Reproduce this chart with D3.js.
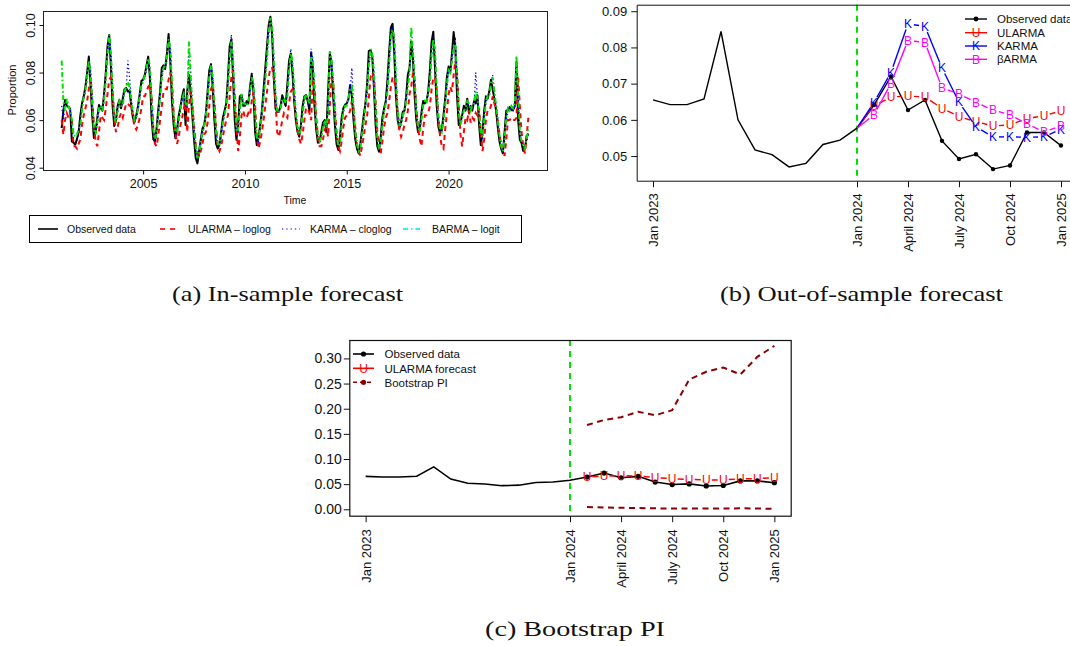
<!DOCTYPE html>
<html>
<head>
<meta charset="utf-8">
<script src="https://cdn.jsdelivr.net/npm/d3@7"></script>
<style>
  body { margin: 0; background: #fff; }
  svg { display: block; }
  text { font-family: "Liberation Sans", Arial, Helvetica, sans-serif; fill: #111; }
  .cap { font-family: "Liberation Serif", "Times New Roman", serif; }
</style>
</head>
<body>
<svg id="fig" width="1070" height="646"></svg>
<script>
// ---------- (a) in-sample: monthly series, Jan 2001 - Dec 2023 ----------
const startYear = 2001;
const observed = [
  .0566,.0640,.0685,.0660,.0655,.0648,.0510,.0505,.0497,.0520,.0550,.0620,
  .0670,.0700,.0740,.0800,.0867,.0750,.0620,.0525,.0550,.0610,.0664,.0650,
  .0640,.0710,.0800,.0910,.0958,.0830,.0660,.0575,.0600,.0660,.0685,.0650,
  .0690,.0730,.0735,.0720,.0725,.0660,.0610,.0593,.0620,.0660,.0710,.0765,
  .0770,.0790,.0830,.0867,.0780,.0610,.0520,.0509,.0570,.0650,.0720,.0820,
  .0830,.0815,.0880,.0962,.0850,.0680,.0580,.0524,.0560,.0620,.0657,.0700,
  .0730,.0580,.0720,.0790,.0720,.0620,.0520,.0440,.0418,.0470,.0520,.0565,
  .0580,.0630,.0720,.0810,.0835,.0740,.0600,.0500,.0480,.0500,.0550,.0610,
  .0640,.0670,.0780,.0910,.0940,.0780,.0600,.0517,.0580,.0700,.0705,.0660,
  .0660,.0680,.0670,.0740,.0795,.0720,.0550,.0495,.0530,.0580,.0640,.0730,
  .0820,.0910,.1000,.1035,.0960,.0780,.0650,.0635,.0635,.0660,.0705,.0680,
  .0660,.0750,.0850,.0880,.0800,.0680,.0600,.0550,.0530,.0580,.0660,.0700,
  .0705,.0680,.0640,.0885,.0820,.0660,.0560,.0505,.0510,.0550,.0590,.0600,
  .0550,.0720,.0880,.0840,.0700,.0580,.0500,.0474,.0530,.0610,.0650,.0665,
  .0670,.0690,.0748,.0700,.0600,.0520,.0480,.0460,.0500,.0560,.0620,.0670,
  .0750,.0890,.0895,.0870,.0740,.0580,.0490,.0467,.0530,.0610,.0650,.0680,
  .0770,.0890,.0990,.1005,.0880,.0700,.0600,.0566,.0590,.0635,.0640,.0700,
  .0790,.0820,.0930,.0860,.0700,.0600,.0550,.0560,.0630,.0680,.0670,.0680,
  .0720,.0810,.0930,.0972,.0820,.0660,.0572,.0545,.0560,.0620,.0690,.0780,
  .0825,.0800,.0880,.0970,.0900,.0700,.0580,.0590,.0620,.0660,.0640,.0690,
  .0630,.0660,.0640,.0680,.0670,.0705,.0580,.0495,.0550,.0640,.0700,.0690,
  .0720,.0770,.0730,.0690,.0640,.0570,.0510,.0480,.0460,.0550,.0640,.0640,
  .0655,.0642,.0642,.0658,.0844,.0600,.0517,.0504,.0470,.0480,.0532,.0544
];
const ularmaFit = [
  .060,.054,.060,.063,.061,.061,.060,.049,.049,.048,.050,.052,
  .058,.062,.065,.068,.073,.078,.069,.058,.051,.049,.055,.062,
  .061,.060,.065,.071,.077,.078,.072,.061,.055,.057,.061,.063,
  .061,.064,.067,.067,.066,.066,.061,.057,.056,.058,.061,.065,
  .070,.070,.072,.074,.075,.070,.057,.050,.049,.054,.060,.066,
  .072,.073,.073,.077,.080,.075,.063,.055,.050,.053,.058,.061,
  .065,.067,.055,.066,.072,.066,.058,.050,.046,.045,.047,.050,
  .054,.055,.059,.066,.073,.075,.068,.057,.049,.047,.049,.053,
  .057,.060,.062,.070,.078,.081,.070,.057,.047,.053,.062,.064,
  .061,.061,.063,.062,.068,.072,.066,.053,.048,.051,.055,.060,
  .066,.072,.078,.082,.082,.078,.068,.055,.053,.056,.060,.063,
  .062,.061,.067,.072,.073,.070,.062,.056,.052,.050,.054,.060,
  .065,.065,.063,.060,.077,.074,.061,.053,.049,.049,.052,.056,
  .057,.053,.066,.078,.076,.065,.055,.049,.047,.051,.057,.061,
  .062,.062,.064,.068,.065,.057,.050,.047,.045,.049,.053,.058,
  .062,.069,.078,.080,.078,.068,.055,.048,.046,.051,.057,.061,
  .063,.068,.074,.078,.077,.072,.063,.056,.053,.055,.058,.060,
  .064,.071,.074,.080,.077,.065,.057,.052,.049,.056,.062,.062,
  .063,.066,.073,.078,.078,.073,.061,.053,.049,.048,.056,.063,
  .071,.074,.072,.079,.085,.080,.066,.054,.049,.055,.061,.060,
  .064,.059,.061,.060,.063,.062,.065,.055,.047,.052,.060,.064,
  .064,.066,.070,.067,.064,.060,.054,.049,.047,.045,.052,.060,
  .060,.061,.060,.060,.061,.078,.066,.055,.049,.046,.053,.061
];
const karmaFit = [
  .066,.060,.066,.067,.066,.065,.058,.051,.050,.051,.054,.059,
  .065,.069,.072,.077,.084,.082,.069,.057,.054,.058,.064,.066,
  .065,.068,.076,.087,.095,.089,.075,.062,.059,.063,.067,.067,
  .067,.071,.073,.085,.078,.069,.064,.060,.061,.064,.069,.074,
  .077,.078,.081,.085,.082,.070,.057,.051,.054,.061,.069,.077,
  .083,.082,.085,.093,.091,.077,.063,.055,.054,.059,.064,.068,
  .072,.066,.065,.090,.080,.067,.057,.048,.043,.045,.050,.054,
  .057,.061,.068,.077,.084,.079,.067,.055,.049,.049,.053,.058,
  .063,.066,.073,.085,.096,.086,.069,.056,.055,.064,.070,.068,
  .066,.067,.068,.071,.077,.076,.064,.052,.051,.056,.061,.069,
  .078,.087,.096,.102,.100,.087,.072,.064,.064,.065,.068,.069,
  .067,.071,.080,.090,.084,.074,.064,.058,.054,.056,.062,.068,
  .070,.069,.066,.090,.085,.074,.061,.053,.051,.053,.057,.060,
  .058,.064,.080,.086,.077,.064,.054,.049,.050,.057,.063,.066,
  .067,.068,.072,.082,.066,.056,.050,.047,.048,.053,.059,.065,
  .071,.082,.089,.088,.081,.066,.054,.048,.050,.057,.063,.067,
  .073,.083,.094,.100,.094,.079,.065,.058,.058,.061,.064,.067,
  .075,.081,.088,.090,.078,.065,.058,.056,.060,.066,.068,.068,
  .070,.077,.087,.095,.090,.074,.062,.056,.055,.059,.066,.074,
  .080,.081,.084,.093,.094,.080,.064,.059,.061,.064,.065,.067,
  .066,.065,.065,.066,.080,.069,.064,.054,.052,.060,.067,.070,
  .071,.075,.079,.071,.067,.061,.054,.050,.047,.051,.060,.064,
  .065,.065,.064,.066,.080,.072,.056,.051,.049,.048,.051,.054
];
const barmaFit = [
  .085,.068,.064,.069,.066,.064,.060,.054,.053,.054,.056,.058,
  .064,.070,.073,.078,.085,.080,.067,.056,.054,.059,.065,.066,
  .064,.069,.077,.088,.096,.088,.073,.061,.059,.064,.068,.066,
  .066,.072,.074,.076,.074,.068,.063,.060,.061,.065,.070,.075,
  .076,.079,.082,.086,.083,.068,.056,.052,.055,.062,.070,.078,
  .082,.083,.086,.094,.090,.076,.062,.055,.055,.060,.065,.069,
  .071,.067,.066,.093,.079,.066,.056,.049,.044,.046,.051,.055,
  .058,.062,.069,.078,.083,.078,.066,.055,.050,.050,.054,.059,
  .062,.066,.074,.086,.093,.085,.068,.056,.056,.065,.071,.067,
  .067,.066,.067,.072,.078,.075,.063,.052,.052,.057,.062,.070,
  .077,.086,.097,.103,.099,.086,.071,.064,.063,.065,.069,.069,
  .067,.070,.081,.088,.085,.073,.063,.057,.054,.056,.063,.069,
  .071,.069,.067,.087,.086,.073,.060,.053,.051,.053,.057,.060,
  .057,.063,.089,.086,.076,.063,.054,.049,.050,.058,.064,.066,
  .066,.069,.073,.074,.065,.055,.050,.047,.048,.054,.060,.066,
  .072,.083,.090,.088,.080,.065,.053,.048,.050,.058,.064,.067,
  .072,.084,.095,.098,.095,.078,.064,.058,.058,.062,.064,.068,
  .074,.080,.099,.089,.077,.064,.057,.055,.060,.066,.068,.067,
  .071,.076,.088,.094,.089,.073,.061,.056,.055,.060,.066,.075,
  .081,.080,.085,.091,.092,.079,.063,.058,.061,.064,.065,.068,
  .067,.064,.066,.067,.072,.069,.063,.054,.053,.060,.068,.070,
  .070,.076,.078,.072,.066,.060,.054,.049,.047,.052,.061,.065,
  .064,.066,.065,.067,.087,.071,.055,.051,.049,.048,.052,.057
];
const yearTicks = [2005, 2010, 2015, 2020];
const propTicks = [0.04, 0.06, 0.08, 0.10];
const legendA = ["Observed data", "ULARMA \u2013 loglog", "KARMA \u2013 cloglog", "BARMA \u2013 logit"];

// ---------- (b), (c) out-of-sample: Jan 2024 - Jan 2025 ----------
const testObserved = [.0577,.0641,.0720,.0627,.0655,.0542,.0492,.0505,.0464,.0474,.0565,.0565,.0529];
// forecasts for Feb 2024 - Jan 2025
const ularmaForecast = [.0639,.0663,.0666,.0663,.0632,.0609,.0595,.0583,.0586,.0604,.0611,.0625];
const karmaForecast  = [.0648,.0731,.0865,.0858,.0743,.0649,.0581,.0553,.0553,.0552,.0553,.0574];
const barmaForecast  = [.0614,.0701,.0819,.0814,.0688,.0672,.0648,.0627,.0614,.0589,.0567,.0583];
const piUpper = [.1675,.1775,.1830,.1940,.1870,.1970,.2580,.2735,.2820,.2680,.3030,.3250];
const piLower = [.0045,.0035,.0030,.0025,.0020,.0015,.0015,.0015,.0015,.0020,.0015,.0010];
const monthTicks = [0, 12, 15, 18, 21, 24];          // months since Jan 2023
const monthLabels = ["Jan 2023", "Jan 2024", "April 2024", "July 2024", "Oct 2024", "Jan 2025"];
const bTicks = [0.05, 0.06, 0.07, 0.08, 0.09];
const cTicks = [0.00, 0.05, 0.10, 0.15, 0.20, 0.25, 0.30];
const legendB = ["Observed data", "ULARMA", "KARMA", "\u03b2ARMA"];
const legendC = ["Observed data", "ULARMA forecast", "Bootstrap PI"];

const RED = "#ff0000", BLUE = "#0000ff", GREEN = "#00e000", MAG = "#ff00ff", DARKRED = "#8b0000";

const svg = d3.select("#fig");
svg.append("rect").attr("width", 1070).attr("height", 646).attr("fill", "#fff");

// lines with gaps around the plotted symbols (R type = "b")
function gappedLine(g, pts, gap, stroke, width, dash) {
  for (let i = 1; i < pts.length; i++) {
    const [x1, y1, s1] = pts[i - 1], [x2, y2, s2] = pts[i];
    const dx = x2 - x1, dy = y2 - y1, L = Math.hypot(dx, dy);
    const a = s1 ? gap : 0, b = s2 ? gap : 0;
    if (L <= a + b) continue;
    g.append("line")
      .attr("x1", x1 + dx * a / L).attr("y1", y1 + dy * a / L)
      .attr("x2", x2 - dx * b / L).attr("y2", y2 - dy * b / L)
      .attr("stroke", stroke).attr("stroke-width", width)
      .attr("stroke-dasharray", dash || null);
  }
}

function styleAxis(g, size) {
  g.select(".domain").remove();
  g.selectAll(".tick line").attr("stroke", "#111");
  g.selectAll(".tick text").attr("font-size", size).attr("fill", "#111")
    .attr("font-family", '"Liberation Sans", Arial, sans-serif');
}

// ================= Panel (a) =================
(function () {
  const A = { left: 43, right: 547, top: 11, bottom: 170 };
  const tA = observed.map((_, i) => startYear + i / 12);
  const [t0, t1] = d3.extent(tA);
  const pad = (t1 - t0) * 0.04;
  const x = d3.scaleLinear().domain([t0 - pad, t1 + pad]).range([A.left, A.right]);
  const y = d3.scaleLinear().domain([0.03903, 0.10588]).range([A.bottom, A.top]);
  const g = svg.append("g");
  const line = d3.line().x((d, i) => x(tA[i])).y(d => y(d));

  g.append("path").datum(observed).attr("d", line).attr("fill", "none")
    .attr("stroke", "#000").attr("stroke-width", 2).attr("stroke-linejoin", "round");
  g.append("path").datum(ularmaFit).attr("d", line).attr("fill", "none")
    .attr("stroke", RED).attr("stroke-width", 2).attr("stroke-dasharray", "5,4");
  g.append("path").datum(karmaFit).attr("d", line).attr("fill", "none")
    .attr("stroke", BLUE).attr("stroke-width", 1.3).attr("stroke-dasharray", "1.3,2.6");
  g.append("path").datum(barmaFit).attr("d", line).attr("fill", "none")
    .attr("stroke", GREEN).attr("stroke-width", 2).attr("stroke-dasharray", "5,2.5,1.5,2.5");

  g.append("rect").attr("x", A.left + 0.5).attr("y", A.top + 0.5)
    .attr("width", A.right - A.left).attr("height", A.bottom - A.top)
    .attr("fill", "none").attr("stroke", "#222").attr("stroke-width", 1);

  const xa = g.append("g").attr("transform", `translate(0,${A.bottom + 0.5})`)
    .call(d3.axisBottom(x).tickValues(yearTicks).tickFormat(d3.format("d")).tickSize(4).tickPadding(5));
  styleAxis(xa, 12.5);
  const ya = g.append("g").attr("transform", `translate(${A.left + 0.5},0)`)
    .call(d3.axisLeft(y).tickValues(propTicks).tickFormat(d3.format(".2f")).tickSize(4));
  styleAxis(ya, 12.5);
  ya.selectAll(".tick text").attr("transform", "rotate(-90)")
    .attr("x", 0).attr("y", -9).attr("dy", 0).attr("text-anchor", "middle");

  g.append("text").attr("x", 295).attr("y", 204).attr("text-anchor", "middle")
    .attr("font-size", 10.5).text("Time");
  g.append("text").attr("transform", "translate(16,90) rotate(-90)").attr("text-anchor", "middle")
    .attr("font-size", 11).text("Proportion");

  // legend
  const L = g.append("g");
  L.append("rect").attr("x", 29.5).attr("y", 215.5).attr("width", 492).attr("height", 27)
    .attr("fill", "#fff").attr("stroke", "#000").attr("stroke-width", 1);
  const items = [
    { x0: 38, x1: 58, tx: 67, c: "#333", w: 2, d: null },
    { x0: 160, x1: 176, tx: 188, c: "#ff3030", w: 2, d: "5,5" },
    { x0: 282, x1: 300, tx: 310, c: "#5050ff", w: 1.3, d: "1.3,3" },
    { x0: 403, x1: 420, tx: 432, c: "#30f0f0", w: 2, d: "5,3,1.5,3" }
  ];
  items.forEach((it, i) => {
    L.append("line").attr("x1", it.x0).attr("x2", it.x1).attr("y1", 229).attr("y2", 229)
      .attr("stroke", it.c).attr("stroke-width", it.w).attr("stroke-dasharray", it.d);
    L.append("text").attr("x", it.tx).attr("y", 232.8).attr("font-size", 10.5).text(legendA[i]);
  });
})();

// ================= Panel (b) =================
(function () {
  const B = { left: 636.7, right: 1077.3, top: 4.7, bottom: 180.7 };
  const x = d3.scaleLinear().domain([-0.96, 24.96]).range([B.left, B.right]);
  const y = d3.scaleLinear().domain([0.0432, 0.0918]).range([B.bottom, B.top]);
  const g = svg.append("g");
  const obsAll = observed.slice(-12).concat(testObserved);

  g.append("line").attr("x1", x(12)).attr("x2", x(12)).attr("y1", B.top).attr("y2", B.bottom)
    .attr("stroke", GREEN).attr("stroke-width", 2).attr("stroke-dasharray", "6,5");

  const line = d3.line().x((d, i) => x(i)).y(d => y(d));
  g.append("path").datum(obsAll).attr("d", line).attr("fill", "none")
    .attr("stroke", "#000").attr("stroke-width", 1.4);
  g.selectAll("circle.obs").data(testObserved.slice(1)).join("circle")
    .attr("cx", (d, i) => x(13 + i)).attr("cy", d => y(d)).attr("r", 2.2).attr("fill", "#000");

  const series = [
    { v: ularmaForecast, c: RED, s: "U" },
    { v: karmaForecast, c: BLUE, s: "K" },
    { v: barmaForecast, c: MAG, s: "B" }
  ];
  series.forEach(sr => {
    const pts = [[x(12), y(testObserved[0]), false]]
      .concat(sr.v.map((d, i) => [x(13 + i), y(d), true]));
    gappedLine(g, pts, 6, sr.c, 1.4);
    g.append("g").selectAll("text").data(sr.v).join("text")
      .attr("x", (d, i) => x(13 + i)).attr("y", d => y(d)).attr("dy", "0.36em")
      .attr("text-anchor", "middle").attr("font-size", 12).style("fill", sr.c).text(sr.s);
  });

  g.append("path")
    .attr("d", `M${B.right},${B.top + 0.5}H${B.left + 0.5}V${B.bottom + 0.5}H${B.right}`)
    .attr("fill", "none").attr("stroke", "#111").attr("stroke-width", 1);

  const ya = g.append("g").attr("transform", `translate(${B.left + 0.5},0)`)
    .call(d3.axisLeft(y).tickValues(bTicks).tickFormat(d3.format(".2f")).tickSize(6).tickPadding(4));
  styleAxis(ya, 13);
  const xa = g.append("g").attr("transform", `translate(0,${B.bottom + 0.5})`)
    .call(d3.axisBottom(x).tickValues(monthTicks).tickFormat((d, i) => monthLabels[i]).tickSize(6));
  styleAxis(xa, 13);
  xa.selectAll(".tick text").attr("transform", "rotate(-90)")
    .attr("x", -12).attr("y", 0).attr("dy", "0.35em").attr("text-anchor", "end");

  // legend
  const rows = [19, 32.7, 46, 59.3];
  const cols = ["#000", RED, BLUE, MAG];
  const syms = [null, "U", "K", "B"];
  rows.forEach((ry, i) => {
    g.append("line").attr("x1", 965).attr("x2", 987).attr("y1", ry).attr("y2", ry)
      .attr("stroke", cols[i]).attr("stroke-width", 1.4);
    if (syms[i]) {
      g.append("text").attr("x", 976).attr("y", ry).attr("dy", "0.36em").attr("text-anchor", "middle")
        .attr("font-size", 12).style("fill", cols[i]).text(syms[i]);
    } else {
      g.append("circle").attr("cx", 976).attr("cy", ry).attr("r", 2.4).attr("fill", "#000");
    }
    g.append("text").attr("x", 997).attr("y", ry + 4).attr("font-size", 11.5).text(legendB[i]);
  });
})();

// ================= Panel (c) =================
(function () {
  const C = { left: 349.3, right: 790.7, top: 340, bottom: 515.7 };
  const x = d3.scaleLinear().domain([-0.96, 24.96]).range([C.left, C.right]);
  const y = d3.scaleLinear().domain([-0.0127, 0.3366]).range([C.bottom, C.top]);
  const g = svg.append("g");
  const obsAll = observed.slice(-12).concat(testObserved);

  g.append("line").attr("x1", x(12)).attr("x2", x(12)).attr("y1", C.top).attr("y2", C.bottom)
    .attr("stroke", GREEN).attr("stroke-width", 2).attr("stroke-dasharray", "6,5");

  const line = d3.line().x((d, i) => x(i)).y(d => y(d));
  g.append("path").datum(obsAll).attr("d", line).attr("fill", "none")
    .attr("stroke", "#000").attr("stroke-width", 1.6);

  const lineF = d3.line().x((d, i) => x(13 + i)).y(d => y(d));
  [piUpper, piLower].forEach(arr => {
    g.append("path").datum(arr).attr("d", lineF).attr("fill", "none")
      .attr("stroke", DARKRED).attr("stroke-width", 2).attr("stroke-dasharray", "6,4.5");
  });

  g.selectAll("circle.obs").data(testObserved.slice(1)).join("circle")
    .attr("cx", (d, i) => x(13 + i)).attr("cy", d => y(d)).attr("r", 2.6).attr("fill", "#000");

  const pts = ularmaForecast.map((d, i) => [x(13 + i), y(d), true]);
  gappedLine(g, pts, 5.5, RED, 1.5);
  g.append("g").selectAll("text").data(ularmaForecast).join("text")
    .attr("x", (d, i) => x(13 + i)).attr("y", d => y(d)).attr("dy", "0.36em")
    .attr("text-anchor", "middle").attr("font-size", 12).style("fill", RED).text("U");

  g.append("rect").attr("x", C.left + 0.5).attr("y", C.top + 0.5)
    .attr("width", C.right - C.left).attr("height", C.bottom - C.top)
    .attr("fill", "none").attr("stroke", "#111").attr("stroke-width", 1.2);

  const ya = g.append("g").attr("transform", `translate(${C.left + 0.5},0)`)
    .call(d3.axisLeft(y).tickValues(cTicks).tickFormat(d3.format(".2f")).tickSize(6).tickPadding(2));
  styleAxis(ya, 14);
  const xa = g.append("g").attr("transform", `translate(0,${C.bottom + 0.5})`)
    .call(d3.axisBottom(x).tickValues(monthTicks).tickFormat((d, i) => monthLabels[i]).tickSize(6));
  styleAxis(xa, 13);
  xa.selectAll(".tick text").attr("transform", "rotate(-90)")
    .attr("x", -13).attr("y", 0).attr("dy", "0.35em").attr("text-anchor", "end");

  // legend
  const rows = [354, 368.3, 382.3];
  rows.forEach((ry, i) => {
    const col = [ "#000", RED, DARKRED ][i];
    g.append("line").attr("x1", 353).attr("x2", 374).attr("y1", ry).attr("y2", ry)
      .attr("stroke", col).attr("stroke-width", 1.6)
      .attr("stroke-dasharray", i === 2 ? "4,3" : null);
    if (i === 1) {
      g.append("text").attr("x", 363.5).attr("y", ry).attr("dy", "0.36em").attr("text-anchor", "middle")
        .attr("font-size", 12).style("fill", RED).text("U");
    } else {
      g.append("circle").attr("cx", 363.5).attr("cy", ry).attr("r", 2.6).attr("fill", col);
    }
    g.append("text").attr("x", 384.5).attr("y", ry + 4.2).attr("font-size", 11.5).text(legendC[i]);
  });
})();

// ================= sub-captions =================
const captions = [
  { t: "(a) In-sample forecast", x: 287.5, y: 300.5, w: 231 },
  { t: "(b) Out-of-sample forecast", x: 861.5, y: 300.5, w: 283 },
  { t: "(c) Bootstrap PI", x: 575, y: 635.5, w: 180 }
];
captions.forEach(c => {
  svg.append("text").attr("class", "cap").attr("x", c.x - c.w / 2).attr("y", c.y)
    .attr("font-size", 21).attr("textLength", c.w).attr("lengthAdjust", "spacingAndGlyphs")
    .style("fill", "#111").text(c.t);
});
</script>
</body>
</html>
